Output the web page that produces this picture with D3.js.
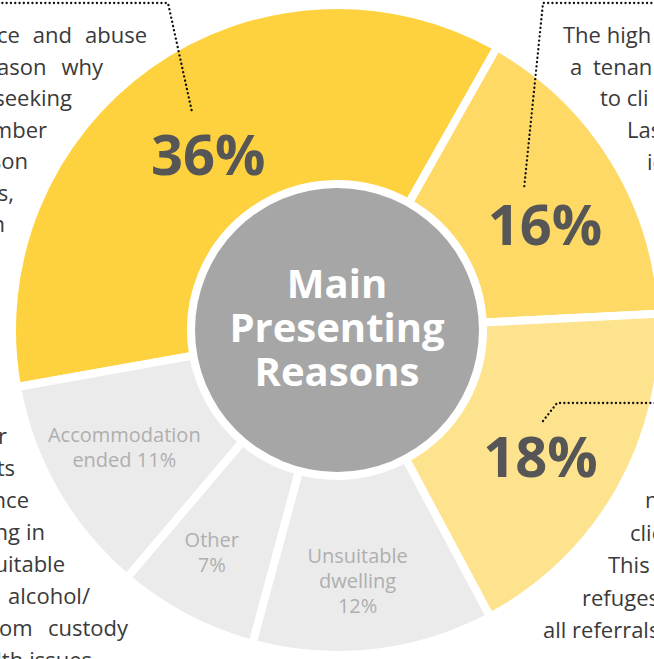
<!DOCTYPE html>
<html lang="en">
<head>
    <meta charset="UTF-8">
    <title>Main Presenting Reasons</title>
    <script src="https://d3js.org/d3.v7.min.js"></script>
    <style>
        html, body { margin: 0; padding: 0; background: #fff; }
        svg { display: block; font-family: "Open Sans", "Noto Sans", sans-serif; }
    </style>
</head>
<body>
    <svg id="chart"></svg>

    <script>
        // slices, clockwise from the left edge of the big yellow one
        const categories = ["Violence and abuse", "Tenancy", "Refuges", "Unsuitable dwelling", "Other", "Accommodation ended"];
        const shares = [36, 16, 18, 12, 7, 11];
        const sliceLabels = [[], [], [], ["Unsuitable", "dwelling"], ["Other"], ["Accommodation", "ended"]];
        const sliceColors = ["#fed23f", "#fed966", "#fee38f", "#ebebeb", "#ebebeb", "#ebebeb"];
        const centerTitle = ["Main", "Presenting", "Reasons"];

        // paragraph fragments around the chart (cut by the frame)
        const leftTopLines = ["ce and abuse", "ason why", "seeking", "mber", "son", "s,", "n"];
        const leftBottomLines = ["r", "ts", "nce", "ng in", "uitable", "alcohol/", "om custody", "lth issues"];
        const rightTopLines = ["The high", "a tenan", "to cli", "Las", "ic"];
        const rightBottomLines = ["n", "clie", "This", "refuges", "all referrals"];

        const width = 654;
        const height = 659;
        const cx = 337, cy = 330;

        const svg = d3.select("#chart")
            .attr("width", width)
            .attr("height", height);

        const data = categories.map((c, i) => ({ name: c, value: shares[i], lines: sliceLabels[i], color: sliceColors[i] }));

        const start = -100.1 * Math.PI / 180;
        const pie = d3.pie()
            .value(d => d.value)
            .sort(null)
            .startAngle(start)
            .endAngle(start + 2 * Math.PI);

        const arc = d3.arc().innerRadius(146).outerRadius(325);

        const g = svg.append("g").attr("transform", `translate(${cx},${cy})`);

        g.selectAll("path.slice")
            .data(pie(data))
            .enter()
            .append("path")
            .attr("class", "slice")
            .attr("d", arc)
            .attr("fill", d => d.data.color)
            .attr("stroke", "#fff")
            .attr("stroke-width", 8);

        // centre disc
        g.append("circle")
            .attr("r", 142)
            .attr("fill", "#a6a6a6");

        g.append("text")
            .attr("text-anchor", "middle")
            .attr("fill", "#fff")
            .style("font-size", "40px")
            .style("font-weight", 700)
            .selectAll("tspan")
            .data(centerTitle)
            .enter()
            .append("tspan")
            .attr("x", 0)
            .attr("y", (d, i) => -32 + i * 44)
            .text(d => d);

        // slice labels
        const labelArc = d3.arc().innerRadius(235).outerRadius(235);
        const nudge = [[7, 17], [8, 18], [-1, 11], [-6, 17], [-16, 14], [-9, 0]];

        pie(data).forEach((d, i) => {
            const [x, y] = labelArc.centroid(d);
            const px = x + nudge[i][0], py = y + nudge[i][1];
            if (d.data.lines.length === 0) {
                g.append("text")
                    .attr("x", px)
                    .attr("y", py)
                    .attr("dy", "0.36em")
                    .attr("text-anchor", "middle")
                    .attr("fill", "#565656")
                    .style("font-size", "56px")
                    .style("font-weight", 700)
                    .text(d.data.value + "%");
            } else {
                const lines = d.data.lines.slice();
                if (lines.length === 2 && lines[1] === "ended") lines[1] = "ended " + d.data.value + "%";
                else lines.push(d.data.value + "%");
                const lh = 25;
                const t = g.append("text")
                    .attr("text-anchor", "middle")
                    .attr("fill", "#afafaf")
                    .style("font-size", "20px")
                    .style("font-weight", 400);
                lines.forEach((l, k) => {
                    t.append("tspan")
                        .attr("x", px)
                        .attr("y", py + (k - (lines.length - 1) / 2) * lh)
                        .attr("dy", "0.36em")
                        .text(l);
                });
            }
        });

        // body text
        const body = svg.append("g")
            .attr("fill", "#3a3a3a")
            .style("font-size", "22px")
            .style("font-weight", 400);

        // spreads the words of a line between x0 and x1 (justified)
        function justify(line, x0, x1, y) {
            const words = line.split(" ");
            if (words.length === 1) {
                body.append("text").attr("x", x1).attr("y", y).attr("text-anchor", "end").text(line);
                return;
            }
            const nodes = words.map(w => body.append("text").attr("y", y).text(w));
            const widths = nodes.map(n => n.node().getComputedTextLength());
            const total = d3.sum(widths);
            const gap = Math.max(6, (x1 - x0 - total) / (words.length - 1));
            let x = x1 - total - gap * (words.length - 1);
            nodes.forEach((n, i) => {
                n.attr("x", x);
                x += widths[i] + gap;
            });
        }

        const leftTopEnds = [147, 103, 72, 47, 28, 14, 5];
        leftTopLines.forEach((l, i) => justify(l, -3, leftTopEnds[i], 43 + i * 31.5));

        const leftBottomEnds = [7, 15, 29, 45, 65, 90, 128, 92];
        leftBottomLines.forEach((l, i) => justify(l, -1, leftBottomEnds[i], 444 + i * 32));

        const rightTopStarts = [563, 570, 600, 627, 647];
        rightTopLines.forEach((l, i) => {
            body.append("text").attr("x", rightTopStarts[i]).attr("y", 43 + i * 31.7)
                .style("word-spacing", i === 1 ? "5px" : "0px").text(l);
        });

        const rightBottomStarts = [645, 630, 608, 582, 543];
        rightBottomLines.forEach((l, i) => {
            body.append("text").attr("x", rightBottomStarts[i]).attr("y", 508 + i * 32.5).text(l);
        });

        // dotted leader lines
        const leaders = [
            [[-2, 3], [168, 3], [192, 112]],
            [[660, 3], [543, 3], [524, 189]],
            [[543, 421], [557, 403], [660, 403]]
        ];
        svg.append("g")
            .selectAll("path")
            .data(leaders)
            .enter()
            .append("path")
            .attr("d", d3.line())
            .attr("fill", "none")
            .attr("stroke", "#111")
            .attr("stroke-width", 2.3)
            .attr("stroke-linecap", "round")
            .attr("stroke-dasharray", "0.1 4.2");
    </script>
</body>
</html>
